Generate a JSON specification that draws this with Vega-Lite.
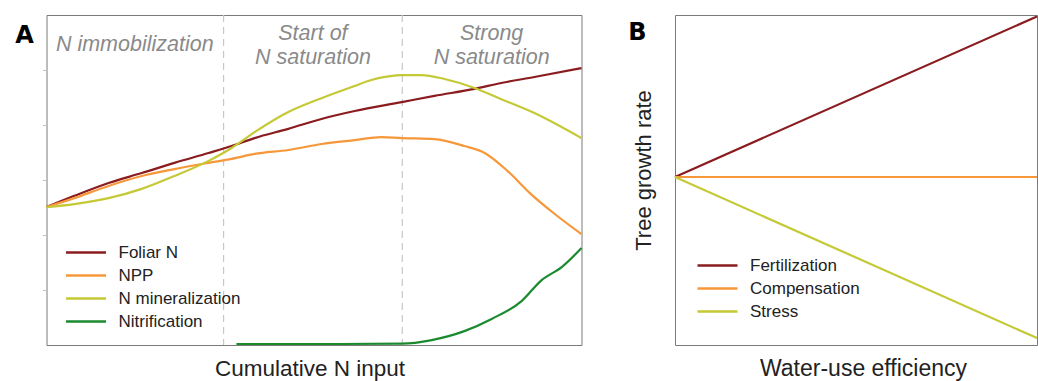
{
  "$schema": "https://vega.github.io/schema/vega-lite/v6.json",
  "background": "white",
  "padding": {"left": 13.5, "top": 13, "right": 0, "bottom": 0},
  "spacing": 43.5,
  "config": {
    "font": "Liberation Sans",
    "view": {"stroke": "#7a7a7a", "strokeWidth": 1},
    "axis": {"grid": false, "labels": false, "ticks": false, "domain": false, "titleFont": "Liberation Sans", "titleFontWeight": "normal", "titleColor": "#222", "titleFontSize": 22},
    "legend": {"labelFont": "Liberation Sans", "labelFontSize": 17, "labelColor": "#222", "symbolType": "M-4,0H4", "symbolSize": 100, "symbolStrokeWidth": 2.5, "rowPadding": 5, "labelOffset": 24}
  },
  "resolve": {"scale": {"color": "independent"}, "legend": {"color": "independent"}},
  "datasets": {
    "bounds": [{"x": 33.1}, {"x": 66.5}],
    "notes": [
      {"label": "N immobilization", "x": 16.5, "y": 89.1},
      {"label": "Start of", "x": 49.8, "y": 92.4},
      {"label": "N saturation", "x": 49.8, "y": 85.2},
      {"label": "Strong", "x": 83.2, "y": 92.4},
      {"label": "N saturation", "x": 83.2, "y": 85.2}
    ],
    "panelB": [{"label": "B", "x": -10.4, "y": 0.833}],
    "curves": [
      {"series": "Foliar N", "x": 0, "y": 41.8},
      {"series": "Foliar N", "x": 5.2, "y": 45.2},
      {"series": "Foliar N", "x": 11.6, "y": 49.1},
      {"series": "Foliar N", "x": 17.8, "y": 52.1},
      {"series": "Foliar N", "x": 23.9, "y": 55.2},
      {"series": "Foliar N", "x": 30.3, "y": 58.2},
      {"series": "Foliar N", "x": 34.6, "y": 60.3},
      {"series": "Foliar N", "x": 38.9, "y": 62.7},
      {"series": "Foliar N", "x": 45.2, "y": 65.5},
      {"series": "Foliar N", "x": 51.4, "y": 68.5},
      {"series": "Foliar N", "x": 57.6, "y": 70.9},
      {"series": "Foliar N", "x": 66.4, "y": 73.6},
      {"series": "Foliar N", "x": 72.5, "y": 75.5},
      {"series": "Foliar N", "x": 80.0, "y": 77.6},
      {"series": "Foliar N", "x": 85.0, "y": 79.4},
      {"series": "Foliar N", "x": 91.2, "y": 81.2},
      {"series": "Foliar N", "x": 100, "y": 83.9},
      {"series": "NPP", "x": 0, "y": 41.8},
      {"series": "NPP", "x": 5.2, "y": 44.5},
      {"series": "NPP", "x": 11.6, "y": 48.2},
      {"series": "NPP", "x": 17.8, "y": 51.2},
      {"series": "NPP", "x": 23.9, "y": 53.3},
      {"series": "NPP", "x": 30.3, "y": 55.2},
      {"series": "NPP", "x": 34.6, "y": 56.4},
      {"series": "NPP", "x": 38.9, "y": 57.9},
      {"series": "NPP", "x": 45.2, "y": 59.1},
      {"series": "NPP", "x": 51.4, "y": 60.9},
      {"series": "NPP", "x": 57.6, "y": 62.1},
      {"series": "NPP", "x": 62.6, "y": 63.0},
      {"series": "NPP", "x": 66.4, "y": 62.7},
      {"series": "NPP", "x": 72.5, "y": 62.4},
      {"series": "NPP", "x": 78.1, "y": 60.3},
      {"series": "NPP", "x": 81.9, "y": 58.2},
      {"series": "NPP", "x": 86.2, "y": 52.7},
      {"series": "NPP", "x": 90.5, "y": 45.8},
      {"series": "NPP", "x": 95.0, "y": 39.7},
      {"series": "NPP", "x": 100, "y": 33.6},
      {"series": "N mineralization", "x": 0, "y": 41.8},
      {"series": "N mineralization", "x": 5.2, "y": 42.7},
      {"series": "N mineralization", "x": 11.6, "y": 44.5},
      {"series": "N mineralization", "x": 17.8, "y": 47.3},
      {"series": "N mineralization", "x": 23.9, "y": 51.2},
      {"series": "N mineralization", "x": 30.3, "y": 55.8},
      {"series": "N mineralization", "x": 34.6, "y": 59.7},
      {"series": "N mineralization", "x": 38.9, "y": 64.5},
      {"series": "N mineralization", "x": 45.2, "y": 70.6},
      {"series": "N mineralization", "x": 51.4, "y": 74.8},
      {"series": "N mineralization", "x": 57.6, "y": 78.5},
      {"series": "N mineralization", "x": 60.7, "y": 80.3},
      {"series": "N mineralization", "x": 63.9, "y": 81.4},
      {"series": "N mineralization", "x": 66.4, "y": 81.8},
      {"series": "N mineralization", "x": 70.1, "y": 81.8},
      {"series": "N mineralization", "x": 74.4, "y": 80.6},
      {"series": "N mineralization", "x": 80.0, "y": 77.9},
      {"series": "N mineralization", "x": 85.0, "y": 74.5},
      {"series": "N mineralization", "x": 91.2, "y": 70.3},
      {"series": "N mineralization", "x": 100, "y": 62.7},
      {"series": "Nitrification", "x": 35.5, "y": 0.3},
      {"series": "Nitrification", "x": 45, "y": 0.3},
      {"series": "Nitrification", "x": 55, "y": 0.3},
      {"series": "Nitrification", "x": 66.4, "y": 0.4},
      {"series": "Nitrification", "x": 72.0, "y": 1.5},
      {"series": "Nitrification", "x": 78.1, "y": 4.2},
      {"series": "Nitrification", "x": 83.2, "y": 7.9},
      {"series": "Nitrification", "x": 88.8, "y": 13.3},
      {"series": "Nitrification", "x": 92.5, "y": 19.6},
      {"series": "Nitrification", "x": 96.3, "y": 23.6},
      {"series": "Nitrification", "x": 100, "y": 29.4}
    ],
    "wue": [
      {"series": "Fertilization", "x": 0, "y": 0},
      {"series": "Fertilization", "x": 100, "y": 0.973},
      {"series": "Compensation", "x": 0, "y": 0},
      {"series": "Compensation", "x": 100, "y": 0},
      {"series": "Stress", "x": 0, "y": 0},
      {"series": "Stress", "x": 100, "y": -0.976}
    ]
  },
  "hconcat": [
    {
      "width": 535,
      "height": 330,
      "layer": [
        {
          "data": {"name": "bounds"},
          "mark": {"type": "rule", "strokeDash": [7, 5], "color": "#c8c8c8", "strokeWidth": 1.2},
          "encoding": {
            "x": {"field": "x", "type": "quantitative", "scale": {"domain": [0, 100], "nice": false, "zero": false}, "axis": {"title": "Cumulative N input", "titlePadding": 12, "titleX": 263, "titleFontSize": 22.5}}
          }
        },
        {
          "data": {"name": "curves"},
          "mark": {"type": "line", "interpolate": "monotone", "strokeWidth": 2.2, "strokeJoin": "round"},
          "encoding": {
            "x": {"field": "x", "type": "quantitative"},
            "y": {"field": "y", "type": "quantitative", "scale": {"domain": [0, 100], "nice": false},
              "axis": {"title": "A", "titleAngle": 0, "titleX": -22.5, "titleY": 27, "titleAlign": "center", "titleBaseline": "alphabetic", "titleFont": "DejaVu Sans", "titleFontSize": 24, "titleFontWeight": "bold", "titleColor": "#000", "ticks": true, "tickSize": 4, "tickColor": "#c0c0c0", "values": [16.667, 33.333, 50, 66.667, 83.333]}},
            "color": {"field": "series", "type": "nominal",
              "scale": {"domain": ["Foliar N", "NPP", "N mineralization", "Nitrification"], "range": ["#8a1c1f", "#f6983a", "#c4c935", "#1b8a2f"]},
              "legend": {"orient": "none", "legendX": 31, "legendY": 229, "title": null}}
          }
        },
        {
          "data": {"name": "notes"},
          "mark": {"type": "text", "font": "Liberation Sans", "fontStyle": "italic", "fontSize": 21.5, "color": "#8a8a8a", "align": "center", "baseline": "alphabetic"},
          "encoding": {
            "x": {"field": "x", "type": "quantitative"},
            "y": {"field": "y", "type": "quantitative"},
            "text": {"field": "label"}
          }
        }
      ]
    },
    {
      "width": 362,
      "height": 330,
      "layer": [
        {
          "data": {"name": "wue"},
          "mark": {"type": "line", "strokeWidth": 2.2, "strokeJoin": "round"},
          "encoding": {
            "x": {"field": "x", "type": "quantitative", "scale": {"domain": [0, 100], "nice": false}, "axis": {"title": "Water-use efficiency", "titlePadding": 12, "titleX": 188, "titleFontSize": 23}},
            "y": {"field": "y", "type": "quantitative", "scale": {"domain": [-1.0182, 0.9818], "nice": false}, "axis": {"title": "Tree growth rate", "titlePadding": 20, "titleY": 155}},
            "color": {"field": "series", "type": "nominal",
              "scale": {"domain": ["Fertilization", "Compensation", "Stress"], "range": ["#8a1c1f", "#f6983a", "#c4c935"]},
              "legend": {"orient": "none", "legendX": 34, "legendY": 242, "title": null}}
          }
        },
        {
          "data": {"name": "panelB"},
          "mark": {"type": "text", "font": "DejaVu Sans", "fontWeight": "bold", "fontSize": 24, "color": "#000", "align": "center", "baseline": "alphabetic", "clip": false},
          "encoding": {
            "x": {"field": "x", "type": "quantitative"},
            "y": {"field": "y", "type": "quantitative"},
            "text": {"field": "label"}
          }
        }
      ]
    }
  ]
}
